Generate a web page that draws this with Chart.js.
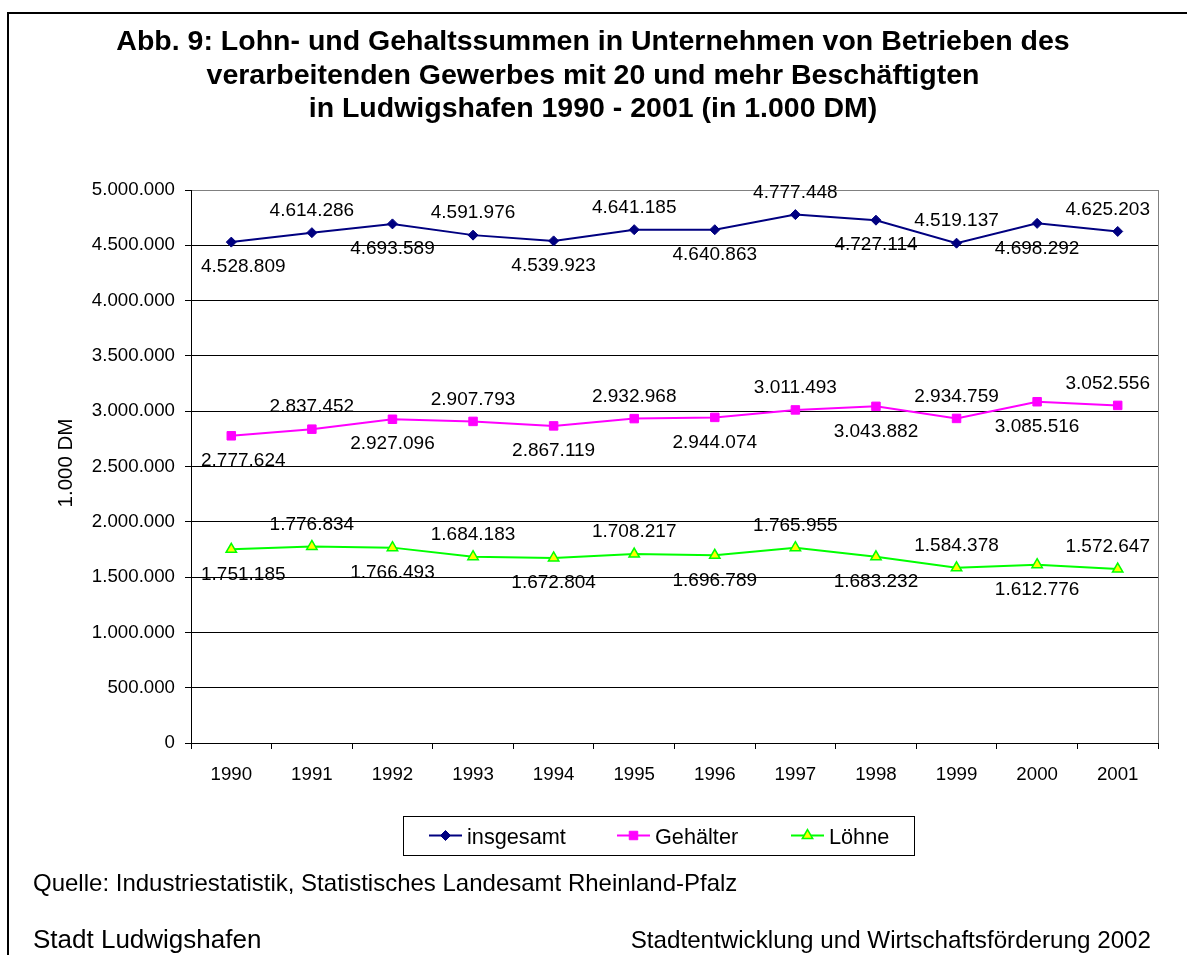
<!DOCTYPE html>
<html><head><meta charset="utf-8">
<script src="https://cdn.jsdelivr.net/npm/chart.js@4"></script>
<style>html,body{margin:0;padding:0;background:#fff;overflow:hidden}canvas{display:block}</style>
</head><body>
<canvas id="c" width="1187" height="955"></canvas>
<script>
const years = ['1990','1991','1992','1993','1994','1995','1996','1997','1998','1999','2000','2001'];
const insgesamt = [4528809,4614286,4693589,4591976,4539923,4641185,4640863,4777448,4727114,4519137,4698292,4625203];
const gehaelter = [2777624,2837452,2927096,2907793,2867119,2932968,2944074,3011493,3043882,2934759,3085516,3052556];
const loehne = [1751185,1776834,1766493,1684183,1672804,1708217,1696789,1765955,1683232,1584378,1612776,1572647];
const yTickLabels = ['0','500.000','1.000.000','1.500.000','2.000.000','2.500.000','3.000.000','3.500.000','4.000.000','4.500.000','5.000.000'];
const seriesNames = ['insgesamt','Gehälter','Löhne'];
const titleLines = ['Abb. 9: Lohn- und Gehaltssummen in Unternehmen von Betrieben des','verarbeitenden Gewerbes mit 20 und mehr Beschäftigten','in Ludwigshafen 1990 - 2001 (in 1.000 DM)'];
const yAxisTitle = '1.000 DM';
const sourceText = 'Quelle: Industriestatistik, Statistisches Landesamt Rheinland-Pfalz';
const footerLeft = 'Stadt Ludwigshafen';
const footerRight = 'Stadtentwicklung und Wirtschaftsförderung 2002';

const FONT = '"Liberation Sans", Arial, sans-serif';
function fmt(v){ return String(v).replace(/\B(?=(\d{3})+(?!\d))/g,'.'); }

const styles = [
  {color:'#000080', fill:'#000080', style:'rectRot', r:5, bw:1},
  {color:'#FF00FF', fill:'#FF00FF', style:'rect', r:6, bw:1},
  {color:'#00FF00', fill:'#FFFF00', style:'triangle', r:6, bw:1.5}
];

function marker(ctx, s, x, y){
  ctx.save();
  ctx.fillStyle = s.fill; ctx.strokeStyle = s.color; ctx.lineWidth = s.bw;
  ctx.beginPath();
  if(s.style==='rectRot'){
    ctx.moveTo(x, y-s.r); ctx.lineTo(x+s.r, y); ctx.lineTo(x, y+s.r); ctx.lineTo(x-s.r, y); ctx.closePath();
  } else if(s.style==='rect'){
    const h = s.r*Math.SQRT1_2; ctx.rect(x-h, y-h, 2*h, 2*h);
  } else {
    const r = s.r;
    ctx.moveTo(x, y - r); ctx.lineTo(x + r*0.866, y + r*0.5); ctx.lineTo(x - r*0.866, y + r*0.5); ctx.closePath();
  }
  ctx.fill(); ctx.stroke();
  ctx.restore();
}

const labelPlugin = {
  id:'pointLabels',
  afterDatasetsDraw(chart){
    const ctx = chart.ctx, area = chart.chartArea;
    ctx.save();
    ctx.font = '19px ' + FONT;
    ctx.fillStyle = '#000'; ctx.textAlign = 'center'; ctx.textBaseline = 'middle';
    chart.data.datasets.forEach((ds, di) => {
      const meta = chart.getDatasetMeta(di);
      meta.data.forEach((pt, i) => {
        const txt = fmt(ds.data[i]);
        const w = ctx.measureText(txt).width;
        let x = pt.x;
        x = Math.max(x, area.left + 10 + w/2);
        x = Math.min(x, area.right - 8 - w/2);
        const y = (i % 2 === 0) ? pt.y + 25 : pt.y - 22;
        ctx.fillText(txt, x, y);
      });
    });
    ctx.restore();
  }
};

const decoPlugin = {
  id:'deco',
  beforeDraw(chart){
    const ctx = chart.ctx;
    ctx.save(); ctx.fillStyle = '#fff'; ctx.fillRect(0,0,chart.width,chart.height); ctx.restore();
  },
  afterDraw(chart){
    const ctx = chart.ctx, area = chart.chartArea;
    ctx.save();
    ctx.strokeStyle = '#000'; ctx.lineWidth = 2;
    ctx.beginPath(); ctx.moveTo(8, 955); ctx.lineTo(8, 13); ctx.lineTo(1187, 13); ctx.stroke();
    ctx.strokeStyle = '#808080'; ctx.lineWidth = 1;
    ctx.beginPath(); ctx.moveTo(Math.round(area.right)+0.5, area.top); ctx.lineTo(Math.round(area.right)+0.5, area.bottom); ctx.stroke();
    ctx.fillStyle = '#000'; ctx.textAlign = 'center'; ctx.textBaseline = 'alphabetic';
    ctx.font = 'bold 28.5px ' + FONT;
    const tb = [50, 83.5, 117];
    titleLines.forEach((t, i) => ctx.fillText(t, 593, tb[i]));
    ctx.save();
    ctx.font = '20.5px ' + FONT;
    ctx.translate(72, 463); ctx.rotate(-Math.PI/2);
    ctx.textAlign = 'center'; ctx.fillText(yAxisTitle, 0, 0);
    ctx.restore();
    ctx.strokeStyle = '#000'; ctx.lineWidth = 1;
    ctx.strokeRect(403.5, 816.5, 511, 39);
    const lx = [429, 617, 791];
    ctx.font = '21.7px ' + FONT; ctx.textAlign = 'left';
    seriesNames.forEach((n, i) => {
      const s = styles[i], y = 835.5;
      ctx.strokeStyle = s.color; ctx.lineWidth = 2;
      ctx.beginPath(); ctx.moveTo(lx[i], y); ctx.lineTo(lx[i] + 33, y); ctx.stroke();
      marker(ctx, s, lx[i] + 16.5, y);
      ctx.fillStyle = '#000';
      ctx.fillText(n, lx[i] + 38, 843.5);
    });
    ctx.font = '24px ' + FONT; ctx.textAlign = 'left';
    ctx.fillText(sourceText, 33, 891);
    ctx.font = '26px ' + FONT;
    ctx.fillText(footerLeft, 33, 948);
    ctx.font = '24.2px ' + FONT;
    ctx.textAlign = 'right';
    ctx.fillText(footerRight, 1151, 948);
    ctx.restore();
  }
};

const datasets = [insgesamt, gehaelter, loehne].map((d, i) => ({
  label: seriesNames[i],
  data: d,
  borderColor: styles[i].color,
  backgroundColor: styles[i].fill,
  pointBackgroundColor: styles[i].fill,
  pointBorderColor: styles[i].color,
  pointBorderWidth: styles[i].bw,
  pointStyle: styles[i].style,
  pointRadius: styles[i].r,
  borderWidth: 2,
  tension: 0,
  fill: false
}));

new Chart(document.getElementById('c'), {
  type: 'line',
  data: { labels: years, datasets },
  plugins: [decoPlugin, labelPlugin],
  options: {
    responsive: false,
    animation: false,
    devicePixelRatio: 1,
    layout: { padding: { left: 0, top: 190, right: 29, bottom: 0 } },
    plugins: { legend: { display: false }, title: { display: false }, tooltip: { enabled: false } },
    scales: {
      x: {
        type: 'category',
        offset: true,
        afterFit(s){ s.height = 212; },
        grid: { offset: true, drawOnChartArea: false, drawTicks: true, tickLength: 6, color: '#000', lineWidth: 1 },
        border: { display: true, color: '#000', width: 1 },
        ticks: { color: '#000', font: { family: FONT, size: 18.7 }, padding: 15, maxRotation: 0, autoSkip: false }
      },
      y: {
        min: 0, max: 5000000,
        afterFit(s){ s.width = 191; },
        grid: { color: c => (c.tick && c.tick.value === 5000000) ? '#808080' : '#000', tickColor: '#000', lineWidth: 1, drawTicks: true, tickLength: 6 },
        border: { display: true, color: '#000', width: 1 },
        ticks: { stepSize: 500000, color: '#000', font: { family: FONT, size: 18.7 }, padding: 10,
          callback: (v, i) => yTickLabels[i] }
      }
    }
  }
});
</script>
</body></html>
